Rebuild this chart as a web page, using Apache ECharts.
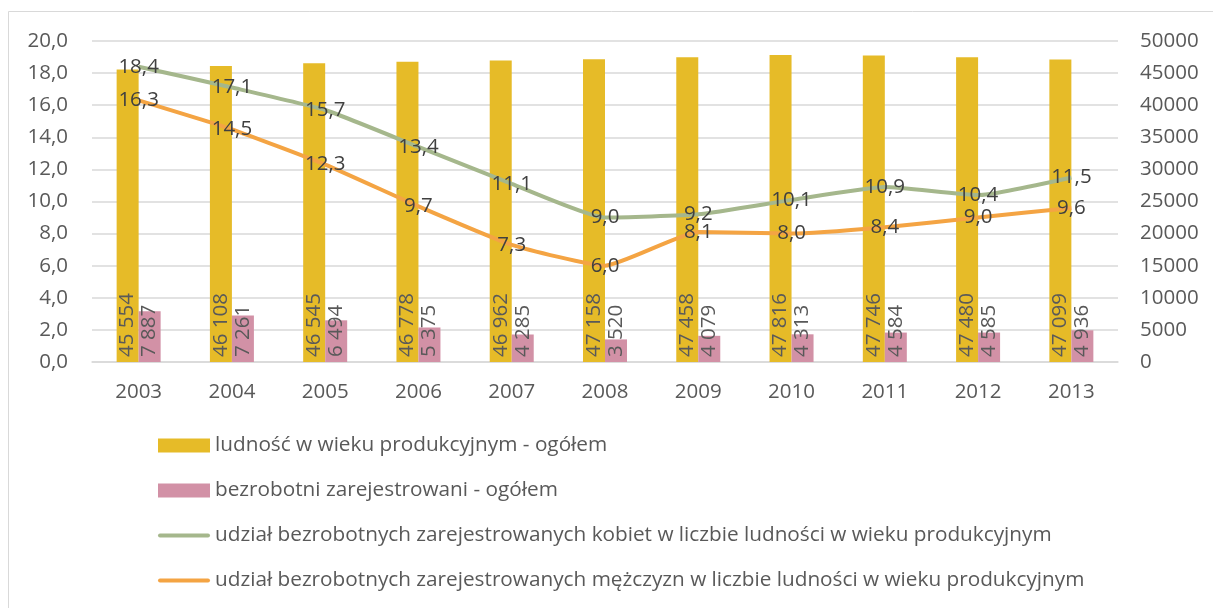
<!DOCTYPE html>
<html>
<head>
<meta charset="utf-8">
<script src="https://cdn.jsdelivr.net/npm/echarts@6/dist/echarts.min.js"></script>
<style>
html,body{margin:0;padding:0;background:#fff;}
#chart{width:1213px;height:608px;}
</style>
</head>
<body>
<div id="chart"></div>
<script>
const categories = ['2003','2004','2005','2006','2007','2008','2009','2010','2011','2012','2013'];
const ludnosc = [45554, 46108, 46545, 46778, 46962, 47158, 47458, 47816, 47746, 47480, 47099];
const bezrobotni = [7887, 7261, 6494, 5375, 4285, 3520, 4079, 4313, 4584, 4585, 4936];
const kobiety = [18.4, 17.1, 15.7, 13.4, 11.1, 9.0, 9.2, 10.1, 10.9, 10.4, 11.5];
const mezczyzni = [16.3, 14.5, 12.3, 9.7, 7.3, 6.0, 8.1, 8.0, 8.4, 9.0, 9.6];
const names = [
  'ludność w wieku produkcyjnym - ogółem',
  'bezrobotni zarejestrowani - ogółem',
  'udział bezrobotnych zarejestrowanych kobiet w liczbie ludności w wieku produkcyjnym',
  'udział bezrobotnych zarejestrowanych mężczyzn w liczbie ludności w wieku produkcyjnym'
];
const colors = ['#E6BB28', '#D291A6', '#A5B78C', '#F4A443'];

const FONT = 'Open Sans';
const FS = 20.5;
const fmtThousands = v => String(v).replace(/\B(?=(\d{3})+(?!\d))/g, ' ');
const fmtDec = v => v.toFixed(1).replace('.', ',');
const lineIcon = 'path://M2,0 L50,0 A2,2 0 0 1 50,4 L2,4 A2,2 0 0 1 2,0 Z';

const chart = echarts.init(document.getElementById('chart'), null, {renderer: 'canvas'});
const barLabel = {
  show: true,
  position: 'insideBottom',
  rotate: 90,
  align: 'left',
  verticalAlign: 'middle',
  distance: 5,
  fontFamily: FONT,
  fontSize: FS,
  color: '#595959',
  formatter: p => fmtThousands(p.value)
};
const lineLabel = {
  show: true,
  position: 'inside',
  fontFamily: FONT,
  fontSize: FS,
  color: '#404040',
  formatter: p => fmtDec(p.value)
};
chart.setOption({
  animation: false,
  backgroundColor: '#fff',
  graphic: [{
    type: 'rect',
    shape: {x: 8.5, y: 11.5, width: 1400, height: 800},
    style: {fill: 'none', stroke: '#d9d9d9', lineWidth: 1},
    silent: true
  }],
  grid: {left: 92, right: 95, top: 41, bottom: 246, containLabel: false},
  legend: {
    orient: 'vertical',
    left: 153,
    top: 430,
    itemWidth: 52,
    itemHeight: 14,
    itemGap: 24,
    textStyle: {fontFamily: FONT, fontSize: 20.75, color: '#595959', lineHeight: 20},
    data: [
      {name: names[0], icon: 'rect', itemStyle: {color: colors[0]}},
      {name: names[1], icon: 'rect', itemStyle: {color: colors[1]}},
      {name: names[2], icon: lineIcon, itemStyle: {color: colors[2]}},
      {name: names[3], icon: lineIcon, itemStyle: {color: colors[3]}}
    ]
  },
  xAxis: {
    type: 'category',
    data: categories,
    axisLine: {show: true, lineStyle: {color: '#d9d9d9', width: 1.5}},
    axisTick: {show: false},
    axisLabel: {fontFamily: FONT, fontSize: FS, color: '#595959', margin: 20}
  },
  yAxis: [{
    type: 'value',
    min: 0, max: 20, interval: 2,
    axisLine: {show: false},
    axisTick: {show: false},
    splitLine: {lineStyle: {color: '#d9d9d9', width: 1.5}},
    axisLabel: {fontFamily: FONT, fontSize: FS, color: '#595959', margin: 24, formatter: v => fmtDec(v)}
  }, {
    type: 'value',
    min: 0, max: 50000, interval: 5000,
    axisLine: {show: false},
    axisTick: {show: false},
    splitLine: {show: false},
    axisLabel: {fontFamily: FONT, fontSize: FS, color: '#595959', margin: 22, formatter: v => String(v)}
  }],
  series: [{
    name: names[0],
    type: 'bar',
    yAxisIndex: 1,
    data: ludnosc,
    barWidth: 22,
    barGap: '0%',
    itemStyle: {color: colors[0]},
    label: barLabel,
    z: 2
  }, {
    name: names[1],
    type: 'bar',
    yAxisIndex: 1,
    data: bezrobotni,
    barWidth: 22,
    barGap: '0%',
    itemStyle: {color: colors[1]},
    label: barLabel,
    z: 2
  }, {
    name: names[2],
    type: 'line',
    yAxisIndex: 0,
    data: kobiety,
    smooth: 0.15,
    symbol: 'circle',
    symbolSize: 2,
    itemStyle: {color: 'rgba(0,0,0,0)'},
    lineStyle: {color: colors[2], width: 4},
    label: lineLabel,
    z: 3
  }, {
    name: names[3],
    type: 'line',
    yAxisIndex: 0,
    data: mezczyzni,
    smooth: 0.15,
    symbol: 'circle',
    symbolSize: 2,
    itemStyle: {color: 'rgba(0,0,0,0)'},
    lineStyle: {color: colors[3], width: 4},
    label: lineLabel,
    z: 3
  }]
});
</script>
</body>
</html>
